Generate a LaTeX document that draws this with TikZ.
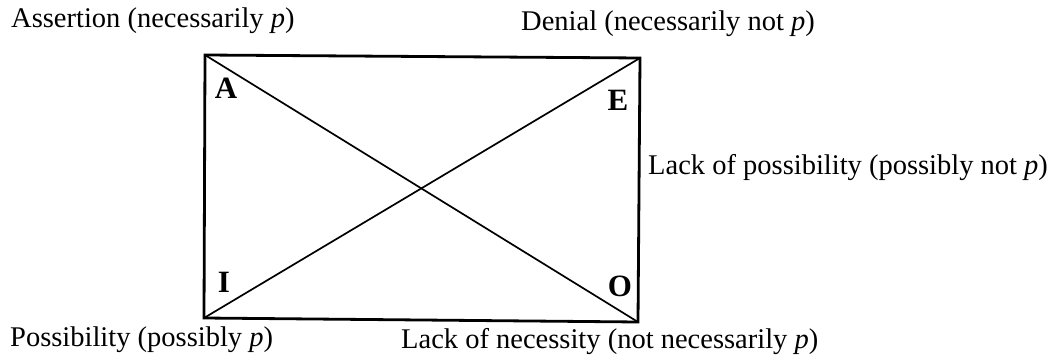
\documentclass[tikz,border=0pt]{standalone}
\usepackage{fontspec}
\setmainfont{Liberation Serif}
\begin{document}
\begin{tikzpicture}[x=1pt,y=-1pt,
  lbl/.style={anchor=base west,inner sep=0pt,font=\fontsize{28.5}{32}\selectfont},
  corner/.style={inner sep=0pt,font=\fontsize{31}{34}\selectfont\bfseries},
  border/.style={line width=2.8pt,line join=miter},
  diag/.style={line width=1.7pt}]
\useasboundingbox (0,0) rectangle (1050,363);
\coordinate (tl) at (205,55);
\coordinate (tr) at (640,58);
\coordinate (br) at (638,322);
\coordinate (bl) at (204,318);
\draw[border] (tl) -- (tr) -- (br) -- (bl) -- cycle;
\draw[diag] (tl) -- (br);
\draw[diag] (bl) -- (tr);
\node[corner] (A) at (226,88) {A};
\node[corner] (E) at (618,100) {E};
\node[corner] (I) at (224,282) {I};
\node[corner] (O) at (620,286) {O};
\node[lbl] (assert) at (11,28) {Assertion (necessarily \textit{p})};
\node[lbl] (denial) at (521,31) {Denial (necessarily not \textit{p})};
\node[lbl] (lackpos) at (648,175) {Lack of possibility (possibly not \textit{p})};
\node[lbl] (poss) at (10,347) {Possibility (possibly \textit{p})};
\node[lbl] (lacknec) at (401,349) {Lack of necessity (not necessarily \textit{p})};
\end{tikzpicture}
\end{document}
